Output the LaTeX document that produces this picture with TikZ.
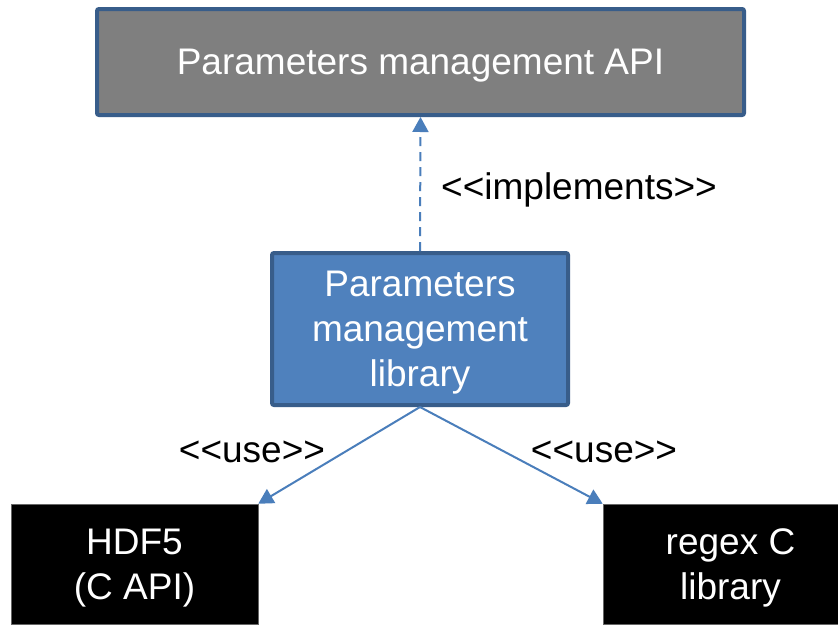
\documentclass[tikz,border=0pt]{standalone}
\usepackage{fontspec}
\setmainfont[Ligatures=TeXOff]{Liberation Sans}
\usetikzlibrary{arrows.meta}
\definecolor{boxline}{HTML}{385D8A}
\definecolor{boxblue}{HTML}{4F81BD}
\definecolor{boxgray}{HTML}{7F7F7F}
\definecolor{linkblue}{HTML}{4A7EBB}

\begin{document}
\begin{tikzpicture}[x=1pt,y=-1pt,
    big/.style={font=\fontsize{37}{45}\selectfont},
    apibox/.style={big,draw=boxline,line width=4pt,text=white,align=center,text depth=0pt,rounded corners=2pt,inner sep=0pt},
    extbox/.style={big,fill=black,draw=black!60,line width=0.5pt,text=white,align=center,text depth=0pt,inner sep=0pt},
    link/.style={draw=linkblue,line width=2pt,-{Triangle[length=15pt,width=16pt]}}]
    \clip (0,0) rectangle (838,624);
    \fill[white] (0,0) rectangle (838,624);
    \node[apibox,fill=boxgray,minimum width=647pt,minimum height=106pt] (api) at (420.5,62) {Parameters management API};
    \node[apibox,fill=boxblue,minimum width=296pt,minimum height=152pt] (lib) at (420,329) {Parameters\\management\\library};
    \node[extbox,minimum width=247pt,minimum height=120pt] (hdf) at (134.5,564) {HDF5\\(C API)};
    \node[extbox,minimum width=255pt,minimum height=120pt] (regex) at (730.5,564) {regex C\\library};
    \draw[link,dash pattern=on 9pt off 6pt] (lib.north) -- (api.south);
    \draw[link] (lib.south) -- (hdf.north east);
    \draw[link] (lib.south) -- (regex.north west);
    \node[big] (impl) at (579,190) {<<implements>>};
    \node[big] (useleft) at (252,452) {<<use>>};
    \node[big] (useright) at (604,452) {<<use>>};
\end{tikzpicture}
\end{document}
